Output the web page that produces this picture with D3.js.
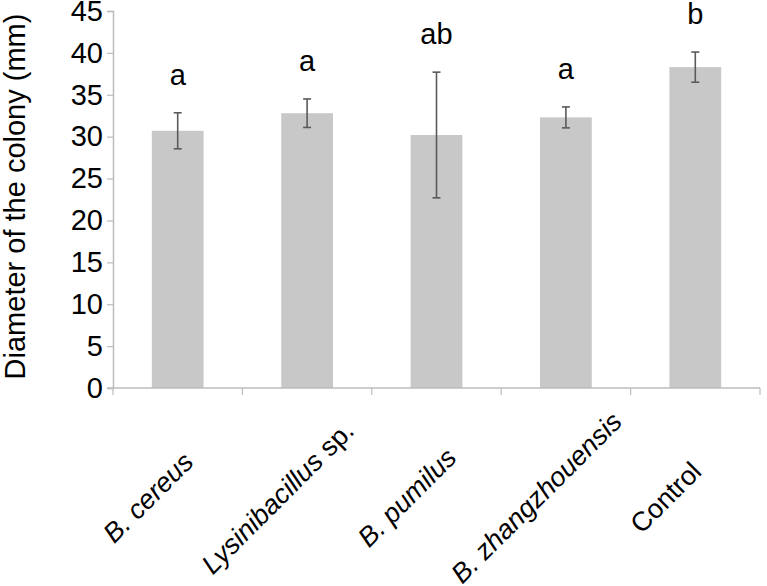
<!DOCTYPE html>
<html>
<head>
<meta charset="utf-8">
<script src="https://cdn.jsdelivr.net/npm/d3@7"></script>
<style>
  html, body { margin: 0; padding: 0; background: #fff; }
  svg { display: block; font-family: "Liberation Sans", Arial, sans-serif; }
</style>
</head>
<body>
<svg id="chart" width="767" height="586"></svg>
<script>
const categories = ["B. cereus", "Lysinibacillus sp.", "B. pumilus", "B. zhangzhouensis", "Control"];
const italicPart = ["B. cereus", "Lysinibacillus", "B. pumilus", "B. zhangzhouensis", ""];
const plainPart = ["", " sp.", "", "", "Control"];
const means = [30.7, 32.8, 30.2, 32.3, 38.3];
const errors = [2.15, 1.7, 7.5, 1.25, 1.8];
const letters = ["a", "a", "ab", "a", "b"];
const yTicks = [0, 5, 10, 15, 20, 25, 30, 35, 40, 45];
const yTitle = "Diameter of the colony (mm)";

(function () {
const svg = d3.select("#chart");
const mLeft = 113, mRight = 760, mTop = 11, mBottom = 388;
const fs = "29px";

const x = d3.scaleBand().domain(categories).range([mLeft, mRight]).paddingInner(0.6).paddingOuter(0.3);
const y = d3.scaleLinear().domain([0, 45]).range([mBottom, mTop]);

const axisColor = "#bdbdbd";

// bars
svg.append("g").selectAll("rect").data(categories).join("rect")
  .attr("x", d => x(d))
  .attr("y", (d, i) => y(means[i]))
  .attr("width", x.bandwidth())
  .attr("height", (d, i) => y(0) - y(means[i]))
  .attr("fill", "#c8c8c8");

// y axis
const yAxis = svg.append("g").attr("transform", `translate(${mLeft},0)`)
  .call(d3.axisLeft(y).tickValues(yTicks).tickSize(6).tickPadding(4));
yAxis.select(".domain").attr("stroke", axisColor).attr("stroke-width", 1.5);
yAxis.selectAll(".tick line").attr("stroke", axisColor).attr("stroke-width", 1.2);
yAxis.selectAll(".tick text").attr("fill", "#000").style("font-size", fs)
  .attr("font-family", "'Liberation Sans', Arial, sans-serif");

// x axis line
svg.append("line").attr("x1", mLeft - 6).attr("x2", mRight).attr("y1", mBottom).attr("y2", mBottom)
  .attr("stroke", axisColor).attr("stroke-width", 1.5);
// category boundary ticks
const step = x.step();
const boundaries = d3.range(categories.length + 1).map(i => mLeft + i * step);
svg.append("g").selectAll("line").data(boundaries).join("line")
  .attr("x1", d => d).attr("x2", d => d)
  .attr("y1", mBottom).attr("y2", mBottom + 7)
  .attr("stroke", axisColor).attr("stroke-width", 1.2);

// error bars
const eg = svg.append("g").attr("stroke", "#5a5a5a").attr("stroke-width", 1.6);
categories.forEach((c, i) => {
  const cx = x(c) + x.bandwidth() / 2;
  const yt = y(means[i] + errors[i]), yb = y(means[i] - errors[i]);
  eg.append("line").attr("x1", cx).attr("x2", cx).attr("y1", yt).attr("y2", yb);
  eg.append("line").attr("x1", cx - 4).attr("x2", cx + 4).attr("y1", yt).attr("y2", yt);
  eg.append("line").attr("x1", cx - 4).attr("x2", cx + 4).attr("y1", yb).attr("y2", yb);
});

// significance letters
svg.append("g").selectAll("text").data(categories).join("text")
  .attr("x", d => x(d) + x.bandwidth() / 2)
  .attr("y", (d, i) => y(means[i] + errors[i]) - 28)
  .attr("text-anchor", "middle")
  .style("font-size", fs)
  .attr("fill", "#000")
  .text((d, i) => letters[i]);

// x labels rotated
const xl = svg.append("g").selectAll("text").data(categories).join("text")
  .attr("text-anchor", "middle")
  .style("font-size", "27px")
  .attr("fill", "#000")
  .attr("transform", d => {
    const cx = x(d) + x.bandwidth() / 2 - 23;
    return `translate(${cx},${mBottom + 116}) rotate(-45)`;
  });
xl.each(function(d, i) {
  const t = d3.select(this);
  if (italicPart[i]) t.append("tspan").style("font-style", "italic").text(italicPart[i]);
  if (plainPart[i]) t.append("tspan").text(plainPart[i]);
});

// y title
svg.append("text")
  .attr("transform", `translate(25,${(mTop + mBottom) / 2 - 3}) rotate(-90)`)
  .attr("text-anchor", "middle")
  .style("font-size", fs)
  .attr("fill", "#000")
  .text(yTitle);
})();
</script>
</body>
</html>
